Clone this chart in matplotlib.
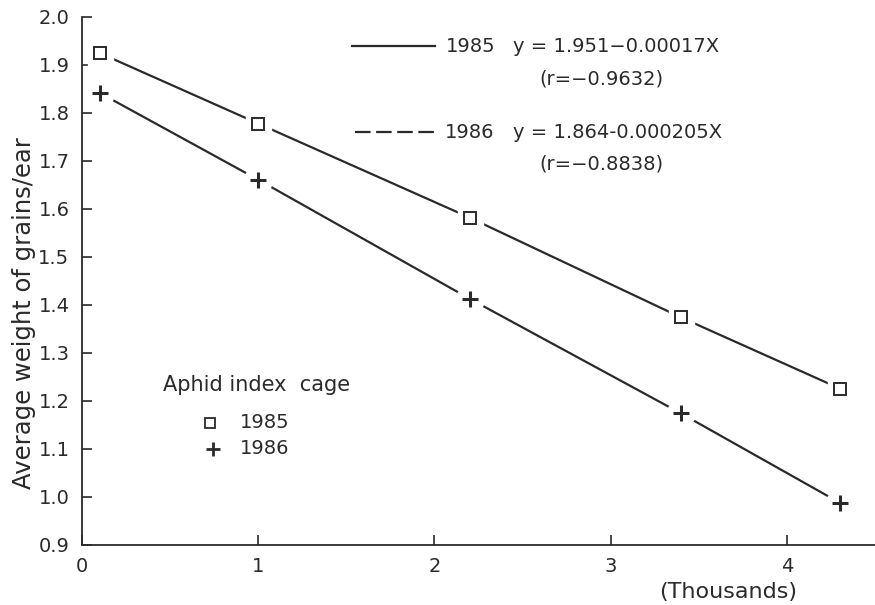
import matplotlib.pyplot as plt
from matplotlib.lines import Line2D

# aphid index (thousands) and grain weight per ear
aphid_index = [0.1, 1.0, 2.2, 3.4, 4.3]
weight_1985 = [1.925, 1.778, 1.582, 1.374, 1.226]
weight_1986 = [1.842, 1.661, 1.413, 1.174, 0.988]

x_ticks = [0, 1, 2, 3, 4]
y_ticks = [0.9, 1.0, 1.1, 1.2, 1.3, 1.4, 1.5, 1.6, 1.7, 1.8, 1.9, 2.0]

ink = "#2a2a2a"
W, H = 875, 605

plt.rcParams["font.family"] = "DejaVu Sans"

fig = plt.figure(figsize=(W / 100, H / 100), dpi=100)
ax = fig.add_axes([82 / W, 1 - 545 / H, 793 / W, 528 / H])


def fx(x):
    return x / W


def fy(y):
    return 1 - y / H


# lines, broken around the markers by white backgrounds
ax.plot(aphid_index, weight_1985, color=ink, lw=1.6, zorder=2, solid_capstyle="butt")
ax.plot(aphid_index, weight_1986, color=ink, lw=1.6, zorder=2, solid_capstyle="butt")
ax.plot(aphid_index, weight_1985, "s", ms=18, mfc="white", mec="white", zorder=3, clip_on=False)
ax.plot(aphid_index, weight_1986, "o", ms=20, mfc="white", mec="white", zorder=3, clip_on=False)
ax.plot(aphid_index, weight_1985, "s", ms=8.5, mfc="white", mec=ink, mew=1.4, zorder=4, clip_on=False)
ax.plot(aphid_index, weight_1986, "+", ms=11, mec=ink, mew=2.2, zorder=4, clip_on=False)

ax.set_xlim(0, 4.5)
ax.set_ylim(0.9, 2.0)
ax.set_xticks(x_ticks)
ax.set_xticklabels([str(t) for t in x_ticks])
ax.set_yticks(y_ticks)
ax.set_yticklabels([f"{t:.1f}" for t in y_ticks])

for s in ["top", "right"]:
    ax.spines[s].set_visible(False)
for s in ["left", "bottom"]:
    ax.spines[s].set_linewidth(1.3)
    ax.spines[s].set_color(ink)
ax.tick_params(direction="in", length=7, width=1.2, color=ink, labelsize=14,
               labelcolor=ink)
ax.tick_params(axis="x", pad=9)
ax.tick_params(axis="y", pad=9)

fig.text(fx(24), fy(313), "Average weight of grains/ear", rotation=90,
         ha="center", va="center", fontsize=17.5, color=ink)
fig.text(fx(728), fy(592), "(Thousands)", ha="center", va="center",
         fontsize=16, color=ink)

# regression key at the top
fig.add_artist(Line2D([fx(352), fx(435)], [fy(46), fy(46)], color=ink, lw=1.6,
                      transform=fig.transFigure))
fig.add_artist(Line2D([fx(355), fx(437)], [fy(132), fy(132)], color=ink, lw=1.6,
                      dashes=(7, 2.5), transform=fig.transFigure))
fig.text(fx(446), fy(46), "1985", ha="left", va="center", fontsize=14, color=ink)
fig.text(fx(513), fy(46), "y = 1.951\u22120.00017X", ha="left", va="center",
         fontsize=14, color=ink)
fig.text(fx(539), fy(79), "(r=\u22120.9632)", ha="left", va="center",
         fontsize=14, color=ink)
fig.text(fx(445), fy(132), "1986", ha="left", va="center", fontsize=14, color=ink)
fig.text(fx(513), fy(132), "y = 1.864-0.000205X", ha="left", va="center",
         fontsize=14, color=ink)
fig.text(fx(539), fy(164), "(r=\u22120.8838)", ha="left", va="center",
         fontsize=14, color=ink)

# marker key
fig.text(fx(163), fy(385), "Aphid index  cage", ha="left", va="center",
         fontsize=15, color=ink)
fig.add_artist(Line2D([fx(210)], [fy(423)], marker="s", ms=7.5, mfc="white",
                      mec=ink, mew=1.3, transform=fig.transFigure))
fig.add_artist(Line2D([fx(213)], [fy(449)], marker="+", ms=10, mec=ink,
                      mew=2.0, transform=fig.transFigure))
fig.text(fx(240), fy(423), "1985", ha="left", va="center", fontsize=14, color=ink)
fig.text(fx(240), fy(449), "1986", ha="left", va="center", fontsize=14, color=ink)

fig.savefig("out.png", dpi=100)
